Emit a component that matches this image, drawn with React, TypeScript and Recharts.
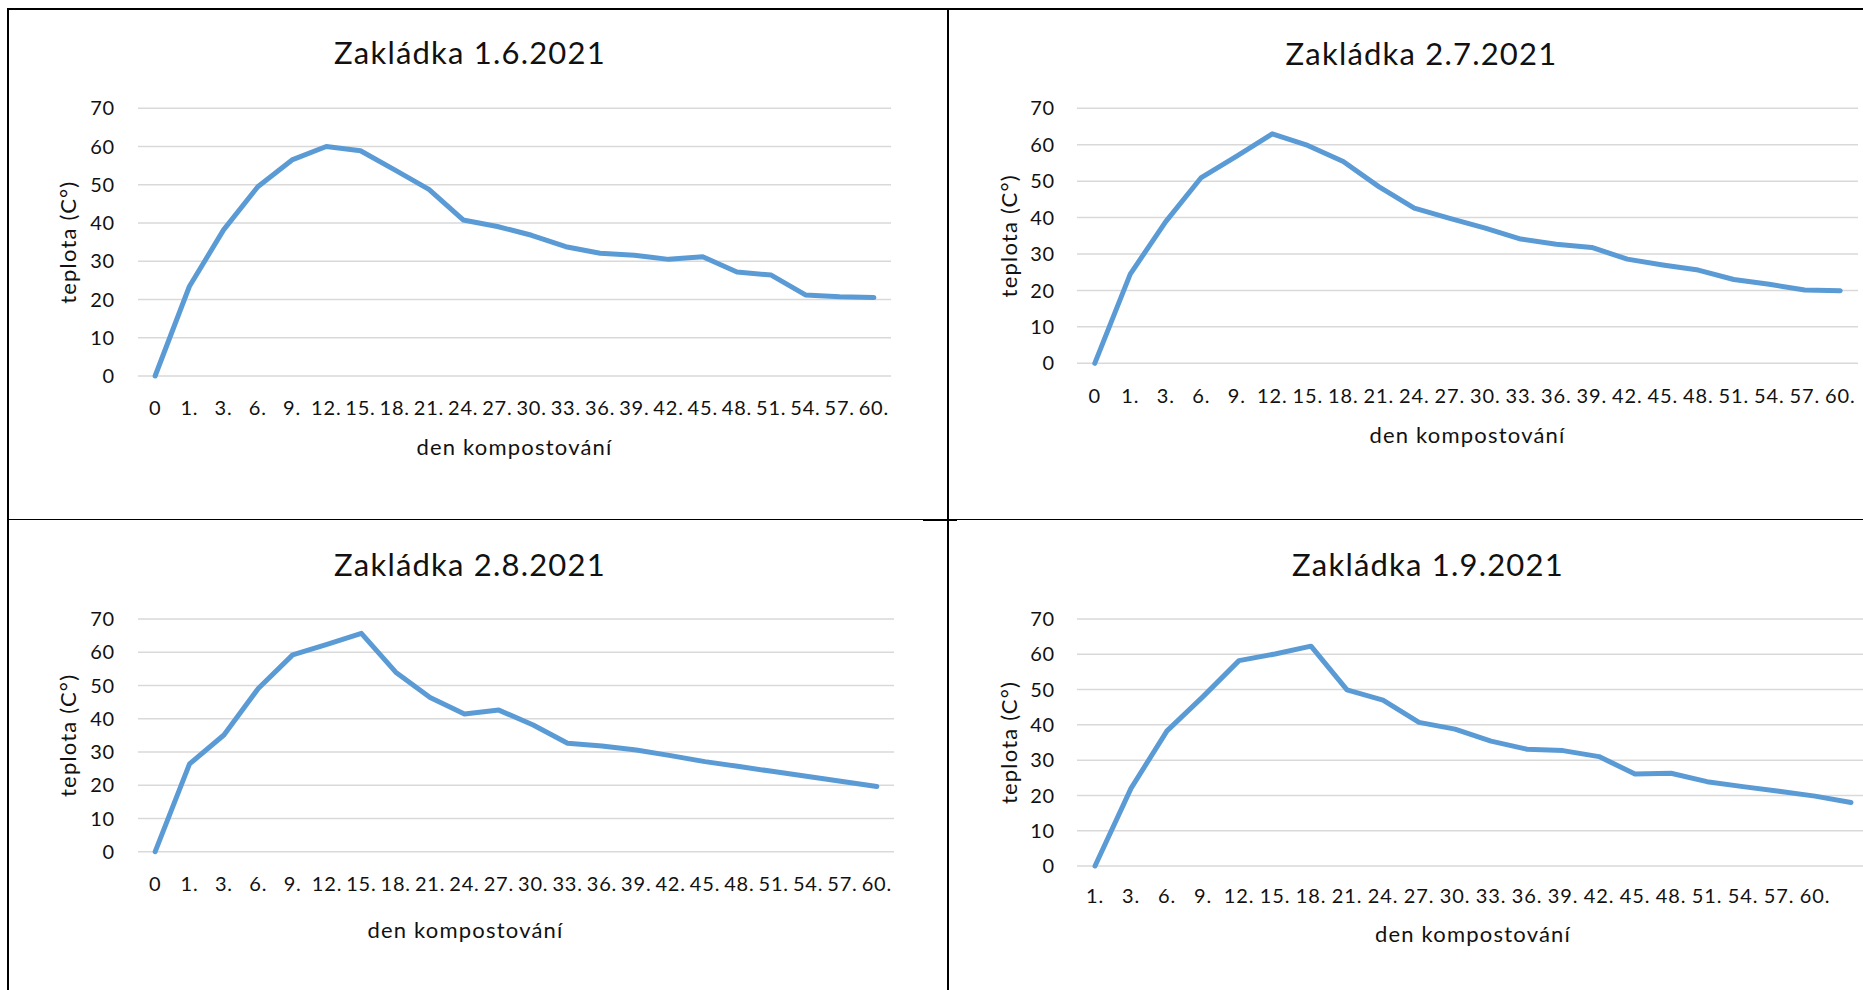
import { CartesianGrid, Line, LineChart, XAxis, YAxis } from 'recharts'

const daysA = ['0', '1.', '3.', '6.', '9.', '12.', '15.', '18.', '21.', '24.', '27.', '30.', '33.', '36.', '39.', '42.', '45.', '48.', '51.', '54.', '57.', '60.']
const daysB = ['1.', '3.', '6.', '9.', '12.', '15.', '18.', '21.', '24.', '27.', '30.', '33.', '36.', '39.', '42.', '45.', '48.', '51.', '54.', '57.', '60.', '']

const tempsJun = [0, 23.4, 38.2, 49.5, 56.5, 60, 58.9, 53.9, 48.8, 40.8, 39.1, 36.8, 33.8, 32.1, 31.6, 30.5, 31.2, 27.2, 26.4, 21.2, 20.7, 20.5]
const tempsJul = [0, 24.5, 38.9, 51, 56.9, 63, 59.8, 55.4, 48.5, 42.6, 39.8, 37.1, 34.1, 32.7, 31.8, 28.6, 27, 25.6, 23, 21.7, 20.1, 19.9]
const tempsAug = [0, 26.4, 35.1, 49.1, 59.2, 62.4, 65.7, 54, 46.4, 41.4, 42.6, 38.1, 32.6, 31.8, 30.6, 28.9, 27.1, 25.6, 24.1, 22.6, 21.1, 19.6]
const tempsSep = [0, 22, 38.3, 48, 58.2, 60.1, 62.3, 49.9, 47, 40.7, 38.8, 35.4, 33.1, 32.7, 31, 26.1, 26.3, 23.9, 22.5, 21.2, 19.8, 18]

const yTicks = [0, 10, 20, 30, 40, 50, 60, 70]

const FONT = 'Lato, "Open Sans", sans-serif'
const INK = '#111'

type Cfg = {
  title: string
  days: string[]
  temps: number[]
  left: number
  top: number
  width: number
  height: number
  plot: { left: number; top: number; right: number; bottom: number }
  titleCx: number
  titleBase: number
  xTickMargin: number
  yTickMargin: number
  xLabelOffset: number
  xLabelDx: number
  yLabelOffset: number
}

const TempChart = (c: Cfg) => {
  const data = c.days.map((d, i) => ({ day: d, t: c.temps[i] }))
  const band = (c.plot.right - c.plot.left) / c.days.length
  const axisH = 100
  return (
    <div style={{ position: 'absolute', left: c.left, top: c.top, width: c.width, height: c.height }}>
      <div
        style={{
          position: 'absolute',
          left: c.titleCx - 300,
          width: 600,
          top: c.titleBase - 27.5,
          textAlign: 'center',
          fontFamily: FONT,
          fontSize: 31,
          lineHeight: '31px',
          letterSpacing: 1.2,
          color: INK,
          whiteSpace: 'nowrap'
        }}
      >
        {c.title}
      </div>
      <LineChart
        width={c.width}
        height={c.height}
        data={data}
        margin={{
          top: c.plot.top,
          left: 0,
          right: c.width - c.plot.right,
          bottom: c.height - c.plot.bottom - axisH
        }}
      >
        <CartesianGrid vertical={false} stroke="#d9d9d9" strokeWidth={1.5} />
        <XAxis
          dataKey="day"
          height={axisH}
          interval={0}
          axisLine={false}
          tickLine={false}
          tickSize={0}
          tickMargin={c.xTickMargin}
          padding={{ left: band / 2, right: band / 2 }}
          tick={{ fontFamily: FONT, fontSize: 20, fill: INK, letterSpacing: 0.8 }}
          label={{
            value: 'den kompostování',
            position: 'insideBottom',
            offset: c.xLabelOffset,
            dx: c.xLabelDx,
            fill: INK,
            fontFamily: FONT,
            fontSize: 22,
            letterSpacing: 1.2
          }}
        />
        <YAxis
          width={c.plot.left}
          domain={[0, 70]}
          ticks={yTicks}
          axisLine={false}
          tickLine={false}
          tickSize={0}
          tickMargin={c.yTickMargin}
          tick={{ fontFamily: FONT, fontSize: 20, fill: INK, letterSpacing: 0.8 }}
          label={{
            value: 'teplota (C°)',
            angle: -90,
            position: 'insideLeft',
            offset: c.yLabelOffset,
            fill: INK,
            fontFamily: FONT,
            fontSize: 22,
            letterSpacing: 1.2,
            style: { textAnchor: 'middle' }
          }}
        />
        <Line
          type="linear"
          dataKey="t"
          stroke="#5B9BD5"
          strokeWidth={5}
          strokeLinejoin="round"
          strokeLinecap="round"
          dot={false}
          activeDot={false}
          isAnimationActive={false}
        />
      </LineChart>
    </div>
  )
}

const rule = (left: number, top: number, width: number, height: number) => (
  <div style={{ position: 'absolute', left, top, width, height, background: '#000' }} />
)

export default function App() {
  return (
    <div style={{ position: 'absolute', left: 0, top: 0, width: 1863, height: 990, overflow: 'hidden', background: '#fff' }}>
      <TempChart
        title="Zakládka 1.6.2021"
        days={daysA}
        temps={tempsJun}
        left={0}
        top={0}
        width={947}
        height={519}
        plot={{ left: 138, top: 108.3, right: 891, bottom: 376 }}
        titleCx={470}
        titleBase={64.3}
        xTickMargin={24.5}
        yTickMargin={23}
        xLabelOffset={21.5}
        xLabelDx={0}
        yLabelOffset={68.5}
      />
      <TempChart
        title="Zakládka 2.7.2021"
        days={daysA}
        temps={tempsJul}
        left={948}
        top={0}
        width={915}
        height={519}
        plot={{ left: 129, top: 108.3, right: 910, bottom: 363.3 }}
        titleCx={473.5}
        titleBase={65}
        xTickMargin={25}
        yTickMargin={22}
        xLabelOffset={20}
        xLabelDx={0}
        yLabelOffset={61}
      />
      <TempChart
        title="Zakládka 2.8.2021"
        days={daysA}
        temps={tempsAug}
        left={0}
        top={520}
        width={947}
        height={470}
        plot={{ left: 138, top: 99, right: 894, bottom: 331.7 }}
        titleCx={470}
        titleBase={56}
        xTickMargin={25}
        yTickMargin={23}
        xLabelOffset={13.7}
        xLabelDx={-50.5}
        yLabelOffset={68.5}
      />
      <TempChart
        title="Zakládka 1.9.2021"
        days={daysB}
        temps={tempsSep}
        left={948}
        top={520}
        width={930}
        height={470}
        plot={{ left: 129, top: 99, right: 921, bottom: 346 }}
        titleCx={480}
        titleBase={56}
        xTickMargin={22.5}
        yTickMargin={22}
        xLabelOffset={24}
        xLabelDx={0}
        yLabelOffset={61}
      />
      {rule(7, 8, 1856, 2)}
      {rule(7, 8, 2, 982)}
      {rule(947, 8, 2, 982)}
      {rule(7, 519, 1856, 1)}
      {rule(923, 519, 34, 2)}
    </div>
  )
}
